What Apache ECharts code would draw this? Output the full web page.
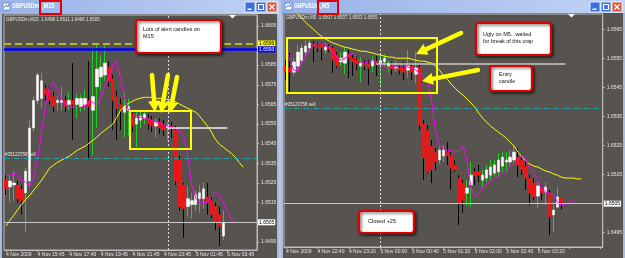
<!DOCTYPE html>
<html><head><meta charset="utf-8">
<script src="https://cdn.jsdelivr.net/npm/echarts@6/dist/echarts.min.js"></script>
<style>html,body{margin:0;padding:0;background:#b9c6df;}#c{width:625px;height:258px;}</style>
</head><body><div id="c"></div>
<script>
// ---------- LEFT chart: GBPUSDm,M15 ----------
const leftTickLabels = ['4 Nov 2009','4 Nov 15:45','4 Nov 17:45','4 Nov 19:45','4 Nov 21:45','4 Nov 23:45','5 Nov 01:45','5 Nov 03:45'];
const leftPriceTicks = [1.6495,1.6515,1.6525,1.6535,1.6545,1.6555,1.6565,1.6575,1.6585,1.6605];
const leftOpen = [1.6527,1.6523,1.6524,1.6524,1.6522,1.6520,1.6526,1.6553,1.6567,1.6568,1.6573,1.6572,1.6569,1.6566,1.6566,1.6567,1.6565,1.6567,1.6565,1.6564,1.6565,1.6567,1.6562,1.6574,1.6579,1.6580,1.6584,1.6578,1.6569,1.6565,1.6561,1.6562,1.6560,1.6555,1.6557,1.6558,1.6558,1.6557,1.6554,1.6556,1.6554,1.6553,1.6554,1.6552,1.6537,1.6524,1.6513,1.6514,1.6514,1.6517,1.6517,1.6518,1.6516,1.6513,1.6509,1.6498];
const leftClose = [1.6522,1.6526,1.6525,1.6517,1.6516,1.6531,1.6553,1.6567,1.6580,1.6577,1.6570,1.6567,1.6564,1.6567,1.6567,1.6564,1.6567,1.6565,1.6568,1.6568,1.6568,1.6564,1.6569,1.6583,1.6584,1.6586,1.6577,1.6567,1.6563,1.6562,1.6564,1.6564,1.6554,1.6558,1.6559,1.6560,1.6555,1.6554,1.6556,1.6553,1.6552,1.6554,1.6553,1.6526,1.6513,1.6512,1.6517,1.6516,1.6519,1.6520,1.6522,1.6515,1.6509,1.6505,1.6503,1.6505];
const leftHigh = [1.6529,1.6529,1.6531,1.6526,1.6524,1.6533,1.6557,1.6569,1.6581,1.6581,1.6575,1.6574,1.6571,1.6569,1.6574,1.6569,1.6571,1.6586,1.6570,1.6570,1.6572,1.6587,1.6594,1.6596,1.6590,1.6595,1.6587,1.6580,1.6572,1.6568,1.6571,1.6568,1.6561,1.6561,1.6561,1.6562,1.6560,1.6559,1.6558,1.6558,1.6557,1.6556,1.6556,1.6554,1.6539,1.6525,1.6523,1.6520,1.6521,1.6524,1.6525,1.6525,1.6518,1.6515,1.6513,1.6511];
const leftLow = [1.6519,1.6515,1.6516,1.6515,1.6509,1.6500,1.6523,1.6551,1.6565,1.6563,1.6567,1.6565,1.6561,1.6562,1.6562,1.6561,1.6562,1.6547,1.6558,1.6561,1.6562,1.6537,1.6539,1.6553,1.6572,1.6577,1.6574,1.6552,1.6547,1.6552,1.6548,1.6549,1.6551,1.6543,1.6553,1.6555,1.6552,1.6551,1.6548,1.6550,1.6549,1.6547,1.6548,1.6524,1.6511,1.6497,1.6508,1.6507,1.6511,1.6510,1.6512,1.6509,1.6507,1.6501,1.6493,1.6496];
const leftSlowMA = [1.65030,1.65060,1.65086,1.65116,1.65142,1.65167,1.65187,1.65213,1.65238,1.65264,1.65294,1.65325,1.65340,1.65355,1.65366,1.65376,1.65386,1.65401,1.65416,1.65427,1.65437,1.65452,1.65467,1.65483,1.65503,1.65518,1.65534,1.65549,1.65584,1.65620,1.65640,1.65656,1.65666,1.65676,1.65681,1.65686,1.65686,1.65686,1.65681,1.65681,1.65676,1.65676,1.65671,1.65661,1.65651,1.65640,1.65630,1.65620,1.65610,1.65590,1.65564,1.65539,1.65508,1.65472,1.65447,1.65432,1.65416,1.65401,1.65381,1.65355,1.65330];
const leftFastMA = [1.65289,1.65289,1.65294,1.65289,1.65264,1.65254,1.65233,1.65274,1.65376,1.65508,1.65646,1.65732,1.65763,1.65722,1.65681,1.65651,1.65640,1.65635,1.65635,1.65635,1.65640,1.65666,1.65661,1.65640,1.65686,1.65742,1.65783,1.65844,1.65864,1.65783,1.65681,1.65620,1.65600,1.65590,1.65584,1.65579,1.65574,1.65569,1.65559,1.65554,1.65544,1.65539,1.65534,1.65528,1.65513,1.65483,1.65391,1.65238,1.65172,1.65152,1.65147,1.65152,1.65182,1.65203,1.65187,1.65147,1.65106,1.65065,1.65050];
const leftLevels = {stopDash:1.6596, blue:1.6593, sell:1.65378, bid:1.6505, breakLvl:1.6553};

// ---------- RIGHT chart: GBPUSDm,M5 ----------
const rightTickLabels = ['4 Nov 2009','4 Nov 22:40','4 Nov 23:20','5 Nov 00:00','5 Nov 00:40','5 Nov 01:20','5 Nov 02:00','5 Nov 02:40','5 Nov 03:20'];
const rightPriceTicks = [1.6495,1.6515,1.6525,1.6535,1.6545,1.6555,1.6565];
const rightOpen = [1.65523,1.65516,1.65502,1.65523,1.65543,1.65571,1.65585,1.65598,1.65595,1.65598,1.65578,1.65588,1.65585,1.65561,1.65537,1.65533,1.65564,1.65550,1.65543,1.65523,1.65530,1.65530,1.65523,1.65540,1.65530,1.65537,1.65523,1.65526,1.65516,1.65519,1.65516,1.65509,1.65523,1.65495,1.65519,1.65324,1.65303,1.65248,1.65227,1.65200,1.65214,1.65227,1.65217,1.65183,1.65138,1.65121,1.65086,1.65114,1.65159,1.65159,1.65131,1.65138,1.65148,1.65155,1.65159,1.65179,1.65193,1.65193,1.65200,1.65210,1.65200,1.65179,1.65138,1.65121,1.65076,1.65104,1.65090,1.65086,1.65011,1.65038,1.65070];
const rightClose = [1.65502,1.65502,1.65537,1.65571,1.65585,1.65592,1.65602,1.65592,1.65585,1.65585,1.65588,1.65581,1.65543,1.65523,1.65550,1.65571,1.65550,1.65537,1.65530,1.65533,1.65523,1.65516,1.65543,1.65526,1.65543,1.65550,1.65533,1.65513,1.65519,1.65509,1.65502,1.65523,1.65502,1.65516,1.65320,1.65207,1.65159,1.65166,1.65193,1.65234,1.65234,1.65214,1.65172,1.65166,1.65052,1.65062,1.65104,1.65148,1.65145,1.65148,1.65148,1.65166,1.65176,1.65183,1.65200,1.65210,1.65200,1.65210,1.65227,1.65183,1.65166,1.65138,1.65086,1.65073,1.65111,1.65086,1.65107,1.65004,1.65028,1.65073,1.65050];
const rightHigh = [1.65543,1.65568,1.65550,1.65598,1.65598,1.65612,1.65612,1.65609,1.65605,1.65605,1.65602,1.65598,1.65592,1.65571,1.65571,1.65585,1.65578,1.65561,1.65557,1.65554,1.65543,1.65543,1.65557,1.65557,1.65568,1.65564,1.65543,1.65537,1.65543,1.65530,1.65537,1.65578,1.65530,1.65571,1.65530,1.65337,1.65320,1.65269,1.65241,1.65248,1.65251,1.65262,1.65227,1.65200,1.65148,1.65131,1.65131,1.65193,1.65172,1.65183,1.65166,1.65183,1.65200,1.65200,1.65224,1.65227,1.65227,1.65234,1.65251,1.65241,1.65217,1.65200,1.65148,1.65138,1.65124,1.65114,1.65124,1.65097,1.65045,1.65107,1.65070];
const rightLow = [1.65475,1.65434,1.65489,1.65509,1.65530,1.65557,1.65571,1.65537,1.65571,1.65543,1.65564,1.65571,1.65499,1.65516,1.65523,1.65495,1.65482,1.65489,1.65509,1.65468,1.65509,1.65458,1.65502,1.65489,1.65451,1.65523,1.65502,1.65492,1.65502,1.65495,1.65475,1.65482,1.65475,1.65464,1.65303,1.65131,1.65155,1.65121,1.65166,1.65186,1.65193,1.65183,1.65097,1.65159,1.64977,1.65018,1.65045,1.65038,1.65114,1.65124,1.65107,1.65124,1.65131,1.65145,1.65141,1.65159,1.65159,1.65179,1.65190,1.65141,1.65148,1.65097,1.65045,1.65062,1.65035,1.65062,1.65045,1.64942,1.64953,1.65035,1.65030];
const rightSlowMA = [1.65743,1.65729,1.65715,1.65702,1.65688,1.65674,1.65660,1.65650,1.65636,1.65626,1.65616,1.65609,1.65602,1.65598,1.65592,1.65588,1.65585,1.65581,1.65578,1.65574,1.65574,1.65571,1.65568,1.65564,1.65561,1.65557,1.65554,1.65554,1.65550,1.65550,1.65550,1.65550,1.65547,1.65543,1.65540,1.65540,1.65537,1.65533,1.65523,1.65509,1.65492,1.65478,1.65461,1.65447,1.65434,1.65423,1.65410,1.65396,1.65382,1.65361,1.65344,1.65330,1.65317,1.65306,1.65296,1.65286,1.65275,1.65262,1.65248,1.65227,1.65210,1.65196,1.65186,1.65179,1.65176,1.65169,1.65162,1.65159,1.65152,1.65148,1.65141,1.65138,1.65138,1.65138,1.65135,1.65135];
const rightFastMA = [1.65588,1.65543,1.65509,1.65506,1.65530,1.65557,1.65578,1.65592,1.65602,1.65602,1.65595,1.65588,1.65568,1.65554,1.65543,1.65550,1.65561,1.65568,1.65550,1.65537,1.65533,1.65537,1.65543,1.65533,1.65526,1.65519,1.65516,1.65519,1.65523,1.65526,1.65523,1.65519,1.65516,1.65509,1.65499,1.65485,1.65475,1.65406,1.65303,1.65251,1.65241,1.65234,1.65231,1.65227,1.65231,1.65248,1.65200,1.65104,1.65076,1.65083,1.65104,1.65117,1.65128,1.65138,1.65145,1.65155,1.65166,1.65176,1.65186,1.65200,1.65217,1.65200,1.65172,1.65155,1.65135,1.65104,1.65090,1.65086,1.65083,1.65056,1.65045,1.65049,1.65052,1.65062];
const rightLevels = {sell:1.65378, bid:1.6505, breakLvl:1.6553};

function makeCats(startMin, step, n){
  const a=[];
  for(let i=0;i<n;i++){
    const m=startMin+i*step, d=m>=1440?5:4, mm=m%1440;
    a.push(d+' Nov '+String(Math.floor(mm/60)).padStart(2,'0')+':'+String(mm%60).padStart(2,'0'));
  }
  return a;
}
const leftCats = makeCats(13*60+45, 15, 64);
const rightCats = makeCats(22*60, 5, 81);

const FONT = "'Liberation Sans', Arial, sans-serif";
const AX = '#bdbdbd', TXT = '#e8e8e8';

function xAxisCfg(grid, cats, labels){
  return {type:'category', gridIndex:grid, data:cats, boundaryGap:true,
    axisLine:{show:true, lineStyle:{color:AX}},
    axisTick:{show:true, alignWithLabel:true, length:2, interval:(i)=>i%8===0, lineStyle:{color:AX}},
    axisLabel:{interval:(i)=>i%8===0, formatter:(v,i)=>labels[i/8]||'', align:'left', fontSize:5, color:TXT, margin:2, fontFamily:FONT},
    splitLine:{show:false}};
}
function yAxisCfg(grid, min, max, ticks){
  return {type:'value', gridIndex:grid, position:'right', min:min, max:max,
    splitLine:{show:false},
    axisLine:{show:true, lineStyle:{color:AX}},
    axisTick:{show:true, customValues:ticks, length:2, lineStyle:{color:AX}},
    axisLabel:{customValues:ticks, formatter:(v)=>v.toFixed(4), color:TXT, fontSize:5, margin:4, fontFamily:FONT}};
}
// wick layer (thin candles) + body layer (bodies only, built from the same open/close arrays)
function wicks(xi, open, close, low, high){
  return {type:'candlestick', xAxisIndex:xi, yAxisIndex:xi,
    data: open.map((o,i)=>[o, close[i], low[i], high[i]]),
    barWidth:1, silent:true,
    itemStyle:{color:'#22d022', color0:'#000000', borderColor:'#22d022', borderColor0:'#000000', borderWidth:1}, z:2};
}
function bodies(xi, open, close){
  return {type:'candlestick', xAxisIndex:xi, yAxisIndex:xi,
    data: open.map((o,i)=>[o, close[i], Math.min(o,close[i]), Math.max(o,close[i])]),
    barWidth:3, silent:true,
    itemStyle:{color:'#ffffff', color0:'#ff1010', borderColor:'#f4f4f4', borderColor0:'#ff1010', borderWidth:0.6}, z:2};
}
function priceLabel(txt, bg, fg){
  return {show:true, position:'end', formatter:txt, backgroundColor:bg, color:fg, fontSize:5, padding:[1,1,0,1], distance:1, fontFamily:FONT};
}
const sellLabel = {show:true, position:'insideStartTop', formatter:'#35123758 sell', color:TXT, fontSize:4.5, distance:1, fontFamily:FONT};
const leftMarks = {symbol:['none','none'], silent:true, animation:false, precision:6, data:[
  {yAxis:leftLevels.stopDash, lineStyle:{color:'#b8b832', type:[7,4], width:2}, label:priceLabel('1.6596','#ffff00','#000')},
  {yAxis:leftLevels.blue, lineStyle:{color:'#0000ff', type:'solid', width:2.5}, label:priceLabel('1.6593','#0000ff','#fff')},
  {yAxis:leftLevels.sell, lineStyle:{color:'#20a8a8', type:[5,2,1,2], width:1}, label:sellLabel},
  {yAxis:leftLevels.bid, lineStyle:{color:'#c8c8c8', type:'solid', width:1}, label:priceLabel('1.6505','#ffffff','#000')},
  {xAxis:leftCats[41], lineStyle:{color:'#dcdcdc', type:[2,2], width:1}, label:{show:false}},
  [{coord:[leftCats[41], leftLevels.breakLvl], lineStyle:{color:'#f0f0f0', type:'solid', width:1.5}, label:{show:false}},
   {coord:[leftCats[56], leftLevels.breakLvl]}]
]};
const rightMarks = {symbol:['none','none'], silent:true, animation:false, precision:6, data:[
  {yAxis:rightLevels.sell, lineStyle:{color:'#20a8a8', type:[5,2,1,2], width:1}, label:sellLabel},
  {yAxis:rightLevels.bid, lineStyle:{color:'#c8c8c8', type:'solid', width:1}, label:priceLabel('1.6505','#ffffff','#000')},
  {xAxis:rightCats[24], lineStyle:{color:'#dcdcdc', type:[2,2], width:1}, label:{show:false}},
  [{coord:[rightCats[23], rightLevels.breakLvl], lineStyle:{color:'#c8c8c8', type:'solid', width:1.5}, label:{show:false}},
   {coord:[rightCats[71], rightLevels.breakLvl]}]
]};
function maLine(xi, data, color, marks){
  const s = {type:'line', xAxisIndex:xi, yAxisIndex:xi, data:data, symbol:'none', clip:true,
    lineStyle:{color:color, width:1}, z:3, silent:true};
  if(marks) s.markLine = marks;
  return s;
}

// ---------- decorations (window chrome & annotations) ----------
const Y = '#ffff00';
function arrow(x1,y1,x2,y2){
  const dx=x2-x1, dy=y2-y1, L=Math.hypot(dx,dy), ux=dx/L, uy=dy/L, hl=11, hw=6;
  const bx=x2-ux*hl, by=y2-uy*hl, px=-uy, py=ux;
  return [
    {type:'line', z:100, shape:{x1:x1,y1:y1,x2:bx,y2:by}, style:{stroke:Y, lineWidth:4.5, lineCap:'round'}},
    {type:'polygon', z:100, shape:{points:[[x2,y2],[bx+px*hw,by+py*hw],[bx-px*hw,by-py*hw]]}, style:{fill:Y}}
  ];
}
function note(x,y,w,h,lines,tx,ty){
  const els=[{type:'rect', z:110, shape:{x:x,y:y,width:w,height:h,r:3},
    style:{fill:'#ffffff', stroke:'#e00000', lineWidth:2.2, shadowBlur:3, shadowOffsetX:1.5, shadowOffsetY:1.5, shadowColor:'rgba(0,0,0,0.6)'}}];
  lines.forEach((t,i)=>els.push({type:'text', z:111, style:{text:t, x:tx, y:ty+i*7.5, fill:'#111', font:'5.5px '+FONT, textVerticalAlign:'top'}}));
  return els;
}
function button(x,y,kind){
  const bg = kind==='close' ? '#d8593d' : '#3d6fe0';
  const els=[{type:'rect', z:20, shape:{x:x,y:y,width:10,height:10,r:1.5}, style:{fill:bg, stroke:'#ffffff', lineWidth:0.8}}];
  if(kind==='min') els.push({type:'rect', z:21, shape:{x:x+2.5,y:y+6.5,width:4,height:1.5}, style:{fill:'#fff'}});
  if(kind==='max') els.push({type:'rect', z:21, shape:{x:x+2.5,y:y+2.5,width:5,height:5}, style:{fill:'none', stroke:'#fff', lineWidth:1.2}});
  if(kind==='close'){
    els.push({type:'line', z:21, shape:{x1:x+2.5,y1:y+2.5,x2:x+7.5,y2:y+7.5}, style:{stroke:'#fff', lineWidth:1.3}});
    els.push({type:'line', z:21, shape:{x1:x+7.5,y1:y+2.5,x2:x+2.5,y2:y+7.5}, style:{stroke:'#fff', lineWidth:1.3}});
  }
  return els;
}
function windowChrome(x,w,titleH,name,tf,tfBox,btnX,icoX,nameW){
  const els=[
    {type:'rect', z:-50, shape:{x:x,y:0,width:w,height:258}, style:{fill:'#a8bbe4'}},
    {type:'rect', z:-49, shape:{x:x,y:0,width:w,height:titleH},
      style:{fill:new echarts.graphic.LinearGradient(0,0,1,0,[{offset:0,color:'#98b2e8'},{offset:1,color:'#c1d2f3'}])}},
    {type:'rect', z:-48, shape:{x:x+2,y:titleH,width:w-4,height:258-titleH}, style:{fill:'#57534e'}},
    {type:'rect', z:20, shape:{x:icoX,y:3,width:7,height:7}, style:{fill:'#ffffff', stroke:'#5b7bc4', lineWidth:0.8}},
    {type:'polyline', z:21, shape:{points:[[icoX+1,8],[icoX+3,5],[icoX+5,7],[icoX+6,4]]}, style:{stroke:'#2c62d8', lineWidth:0.8, fill:'none'}},
    {type:'text', z:20, x:icoX+9, y:3, scaleX:nameW, style:{text:name, x:0, y:0, fill:'#ffffff', font:'bold 7px '+FONT, textVerticalAlign:'top'}},
    {type:'text', z:20, x:tfBox[0]+2, y:3, scaleX:0.8, style:{text:tf, x:0, y:0, fill:'#ffffff', font:'bold 7px '+FONT, textVerticalAlign:'top'}},
    {type:'rect', z:21, shape:{x:tfBox[0],y:1,width:tfBox[1],height:13}, style:{fill:'none', stroke:'#e00000', lineWidth:2}}
  ];
  return els.concat(button(btnX,2,'min'), button(btnX+11,2,'max'), button(btnX+22,2,'close'));
}

let gfx = [];
gfx = gfx.concat(windowChrome(0,279,14,'GBPUSDm',',M15',[40,21],245,3,0.75));
gfx = gfx.concat(windowChrome(281,344,13,'GBPUSDm',',M5',[318,20],590,285,0.72));
gfx.push({type:'text', z:30, style:{text:'GBPUSDm,M15  1.6498 1.6511 1.6496 1.6505', x:6, y:17, fill:TXT, font:'4.5px '+FONT, textVerticalAlign:'top'}});
gfx.push({type:'text', z:30, style:{text:'GBPUSDm,M5  1.6507 1.6507 1.6503 1.6505', x:286, y:15.5, fill:TXT, font:'4.5px '+FONT, textVerticalAlign:'top'}});
gfx.push({type:'polygon', z:30, shape:{points:[[229,15],[236,15],[232.5,18.5]]}, style:{fill:'#ffffff'}});
gfx.push({type:'polygon', z:30, shape:{points:[[568,14],[575,14],[571.5,17.5]]}, style:{fill:'#ffffff'}});
// highlight boxes
gfx.push({type:'rect', z:90, shape:{x:130,y:111,width:61,height:38}, style:{fill:'none', stroke:Y, lineWidth:2}});
gfx.push({type:'rect', z:90, shape:{x:287,y:38,width:150,height:55}, style:{fill:'none', stroke:Y, lineWidth:2}});
// arrows
gfx = gfx.concat(arrow(152,75,155,112), arrow(168,75,161,113), arrow(177,77,170,113));
gfx = gfx.concat(arrow(461,33,416,54), arrow(478,70,422,81));
// notes
gfx = gfx.concat(note(136,20,85,33,['Lots of alert candles on','M15'],143,26));
gfx = gfx.concat(note(476,23,75,32,['Ugly on M5...waited','for break of this crap'],483,31));
gfx = gfx.concat(note(490,66,42,25,['Entry','candle'],499,71));
gfx = gfx.concat(note(359,211,55,22,['Closed +25'],368,218));

const chart = echarts.init(document.getElementById('c'), null, {renderer:'canvas'});
chart.setOption({
  animation:false,
  backgroundColor:'#b9c6df',
  textStyle:{fontFamily:FONT},
  grid:[
    {left:4, top:15, width:253, height:235, show:true, borderColor:AX, borderWidth:1, backgroundColor:'transparent'},
    {left:284, top:14, width:319, height:233, show:true, borderColor:AX, borderWidth:1, backgroundColor:'transparent'}
  ],
  xAxis:[xAxisCfg(0,leftCats,leftTickLabels), xAxisCfg(1,rightCats,rightTickLabels)],
  yAxis:[yAxisCfg(0,1.64909,1.66105,leftPriceTicks), yAxisCfg(1,1.64901,1.65702,rightPriceTicks)],
  series:[
    wicks(0,leftOpen,leftClose,leftLow,leftHigh),
    bodies(0,leftOpen,leftClose),
    maLine(0,leftSlowMA,'#ffff00',leftMarks),
    maLine(0,leftFastMA,'#ff00ff'),
    wicks(1,rightOpen,rightClose,rightLow,rightHigh),
    bodies(1,rightOpen,rightClose),
    maLine(1,rightSlowMA,'#ffff00',rightMarks),
    maLine(1,rightFastMA,'#ff00ff')
  ],
  graphic:{elements:gfx}
});
</script></body></html>
